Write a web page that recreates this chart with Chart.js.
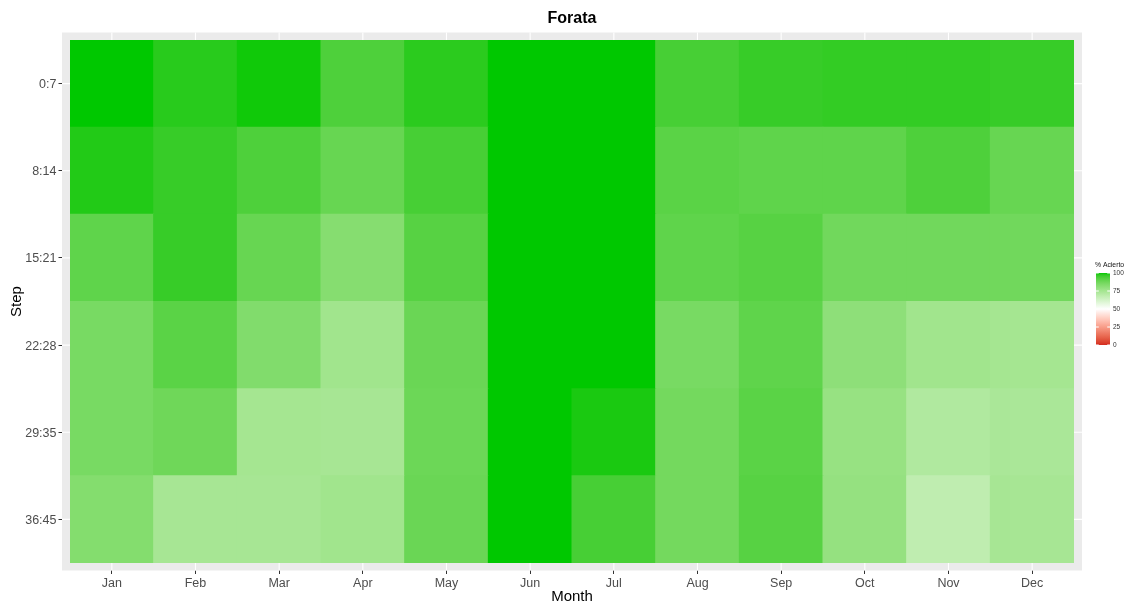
<!DOCTYPE html>
<html>
<head>
<meta charset="utf-8">
<title>Forata</title>
<script src="https://cdn.jsdelivr.net/npm/chart.js@4.4.1/dist/chart.umd.min.js"></script>
<style>
  html, body { margin: 0; padding: 0; background: #ffffff; }
  #wrap { width: 1134px; height: 602px; position: relative; }
  canvas { display: block; }
</style>
</head>
<body>
<div id="wrap"><canvas id="heat" width="1134" height="602"></canvas></div>
<script>
// Months along the x axis
const months = ['Jan', 'Feb', 'Mar', 'Apr', 'May', 'Jun', 'Jul', 'Aug', 'Sep', 'Oct', 'Nov', 'Dec'];
// Forecast step ranges, listed top to bottom
const stepLabels = ['0:7', '8:14', '15:21', '22:28', '29:35', '36:45'];

// % Acierto per month for each step range
const acierto_0_7   = [100, 98, 99.5, 93.5, 97.8, 100, 100, 94.5, 96.5, 97, 97, 96.5];
const acierto_8_14  = [98.5, 96.5, 93.5, 89, 94.5, 100, 100, 91.5, 90.5, 90.5, 93.5, 89];
const acierto_15_21 = [90.5, 96.5, 89, 82.5, 92, 100, 100, 90.5, 92, 87, 87, 87];
const acierto_22_28 = [85.5, 91.5, 83.5, 76, 88.5, 100, 100, 85.5, 90.5, 80.5, 76, 75];
const acierto_29_35 = [85.5, 87.5, 75, 74.5, 88, 100, 99, 86.5, 91.5, 78.5, 72, 73.5];
const acierto_36_45 = [83, 74.5, 74.5, 76, 88.5, 100, 94.5, 86.5, 92, 79, 68, 74.5];

const rows = [acierto_0_7, acierto_8_14, acierto_15_21, acierto_22_28, acierto_29_35, acierto_36_45];

// Legend breaks for the colour bar
const legendBreaks = [0, 25, 50, 75, 100];

// ---- diverging colour scale (red -> white -> green), interpolated in CIE Lab ----
const LOW = '#D42A1E', MID = '#FFFFFF', HIGH = '#00C800';
function hexRgb(h) { return [parseInt(h.slice(1, 3), 16), parseInt(h.slice(3, 5), 16), parseInt(h.slice(5, 7), 16)]; }
function toLin(c) { c /= 255; return c <= 0.04045 ? c / 12.92 : Math.pow((c + 0.055) / 1.055, 2.4); }
function fromLin(c) { const v = c <= 0.0031308 ? 12.92 * c : 1.055 * Math.pow(c, 1 / 2.4) - 0.055; return Math.round(Math.min(1, Math.max(0, v)) * 255); }
const Xn = 0.95047, Yn = 1.0, Zn = 1.08883;
function f(t) { return t > 0.008856 ? Math.cbrt(t) : 7.787 * t + 16 / 116; }
function fi(t) { const t3 = t * t * t; return t3 > 0.008856 ? t3 : (t - 16 / 116) / 7.787; }
function rgbLab(rgb) {
  const [r, g, b] = rgb.map(toLin);
  const X = 0.4124 * r + 0.3576 * g + 0.1805 * b;
  const Y = 0.2126 * r + 0.7152 * g + 0.0722 * b;
  const Z = 0.0193 * r + 0.1192 * g + 0.9505 * b;
  const fx = f(X / Xn), fy = f(Y / Yn), fz = f(Z / Zn);
  return [116 * fy - 16, 500 * (fx - fy), 200 * (fy - fz)];
}
function labRgb(lab) {
  const fy = (lab[0] + 16) / 116, fx = fy + lab[1] / 500, fz = fy - lab[2] / 200;
  const X = Xn * fi(fx), Y = Yn * fi(fy), Z = Zn * fi(fz);
  const r = 3.2406 * X - 1.5372 * Y - 0.4986 * Z;
  const g = -0.9689 * X + 1.8758 * Y + 0.0415 * Z;
  const b = 0.0557 * X - 0.2040 * Y + 1.0570 * Z;
  return [fromLin(r), fromLin(g), fromLin(b)];
}
const labLow = rgbLab(hexRgb(LOW)), labMid = rgbLab(hexRgb(MID)), labHigh = rgbLab(hexRgb(HIGH));
function colourFor(v) {
  const a = v < 50 ? labLow : labMid;
  const b = v < 50 ? labMid : labHigh;
  const t = v < 50 ? v / 50 : (v - 50) / 50;
  const lab = [0, 1, 2].map(i => a[i] + (b[i] - a[i]) * t);
  const c = labRgb(lab);
  return 'rgb(' + c[0] + ',' + c[1] + ',' + c[2] + ')';
}

// ---- one stacked dataset per step range; bottom row first ----
const datasets = rows.slice().reverse().map((vals, i) => ({
  label: stepLabels[stepLabels.length - 1 - i],
  data: vals.map(() => 1),
  acierto: vals,
  backgroundColor: vals.map(colourFor),
  borderWidth: 0,
  barPercentage: 1,
  categoryPercentage: 1,
  inflateAmount: 0.5
}));

const FONT = "'Liberation Sans', Arial, sans-serif";
const PANEL_X = 8, PANEL_Y = 7.5;

// Grey ggplot-style panel with white major grid lines, drawn under the tiles
const panelPlugin = {
  id: 'panel',
  beforeDatasetsDraw(chart) {
    const { ctx, chartArea: a, scales } = chart;
    ctx.save();
    ctx.fillStyle = '#EBEBEB';
    ctx.fillRect(a.left - PANEL_X, a.top - PANEL_Y, a.right - a.left + 2 * PANEL_X, a.bottom - a.top + 2 * PANEL_Y);
    ctx.strokeStyle = '#FFFFFF';
    ctx.lineWidth = 1.1;
    scales.x.ticks.forEach((t, i) => {
      const x = scales.x.getPixelForTick(i);
      ctx.beginPath(); ctx.moveTo(x, a.top - PANEL_Y); ctx.lineTo(x, a.bottom + PANEL_Y); ctx.stroke();
    });
    scales.y.ticks.forEach((t, i) => {
      const y = scales.y.getPixelForTick(i);
      ctx.beginPath(); ctx.moveTo(a.left - PANEL_X, y); ctx.lineTo(a.right + PANEL_X, y); ctx.stroke();
    });
    ctx.restore();
  }
};

// Continuous colour-bar legend for % Acierto
const colourBarPlugin = {
  id: 'colourBar',
  afterDraw(chart) {
    const { ctx } = chart;
    const x0 = 1096, w = 14, yTop = 273, h = 72;
    ctx.save();
    ctx.fillStyle = '#111111';
    ctx.font = '6.8px ' + FONT;
    ctx.textAlign = 'left';
    ctx.textBaseline = 'middle';
    ctx.fillText('% Acierto', 1095, 265);

    const grad = ctx.createLinearGradient(0, yTop + h, 0, yTop);
    for (let s = 0; s <= 40; s++) grad.addColorStop(s / 40, colourFor(s * 2.5));
    ctx.fillStyle = grad;
    ctx.fillRect(x0, yTop, w, h);

    ctx.strokeStyle = '#FFFFFF';
    ctx.lineWidth = 1;
    ctx.fillStyle = '#333333';
    ctx.font = '6.5px ' + FONT;
    legendBreaks.forEach(b => {
      const y = yTop + h - (b / 100) * h;
      ctx.beginPath(); ctx.moveTo(x0, y); ctx.lineTo(x0 + 2.8, y); ctx.stroke();
      ctx.beginPath(); ctx.moveTo(x0 + w - 2.8, y); ctx.lineTo(x0 + w, y); ctx.stroke();
      ctx.fillText(String(b), x0 + w + 3, y + 0.5);
    });
    ctx.restore();
  }
};

new Chart(document.getElementById('heat'), {
  type: 'bar',
  data: { labels: months, datasets },
  plugins: [panelPlugin, colourBarPlugin],
  options: {
    responsive: false,
    devicePixelRatio: 1,
    animation: false,
    layout: { padding: { left: 0, right: 60, top: 0, bottom: 0 } },
    plugins: {
      legend: { display: false },
      tooltip: { enabled: false },
      title: {
        display: true,
        fullSize: false,
        text: 'Forata',
        color: '#000000',
        font: { family: FONT, size: 16, weight: 'bold', lineHeight: 1.2 },
        padding: { top: 8.5, bottom: 12.3 }
      }
    },
    scales: {
      x: {
        type: 'category',
        stacked: true,
        offset: true,
        border: { display: false },
        grid: { display: true, offset: false, drawOnChartArea: false, drawTicks: true, tickLength: 11, color: '#333333', lineWidth: 1 },
        ticks: { color: '#4D4D4D', font: { family: FONT, size: 12.5 }, padding: 2, maxRotation: 0, autoSkip: false },
        title: { display: true, text: 'Month', color: '#000000', font: { family: FONT, size: 15, lineHeight: 1.2 }, padding: { top: 0, bottom: -4 } },
        afterFit(scale) { scale.height = 39; }
      },
      y: {
        type: 'linear',
        stacked: true,
        min: 0,
        max: stepLabels.length,
        border: { display: false },
        grid: { display: true, drawOnChartArea: false, drawTicks: true, tickLength: 11.5, color: '#333333', lineWidth: 1 },
        afterBuildTicks(axis) {
          axis.ticks = stepLabels.map((_, i) => ({ value: i + 0.5 }));
        },
        ticks: {
          color: '#4D4D4D',
          font: { family: FONT, size: 12.5 },
          padding: 2,
          labelOffset: 1,
          autoSkip: false,
          callback: (v) => stepLabels[stepLabels.length - 1 - Math.floor(v)]
        },
        title: { display: true, text: 'Step', color: '#000000', font: { family: FONT, size: 15, lineHeight: 1.2 }, padding: { top: 8, bottom: 0 } },
        afterFit(scale) { scale.width = 70; }
      }
    }
  }
});
</script>
</body>
</html>
